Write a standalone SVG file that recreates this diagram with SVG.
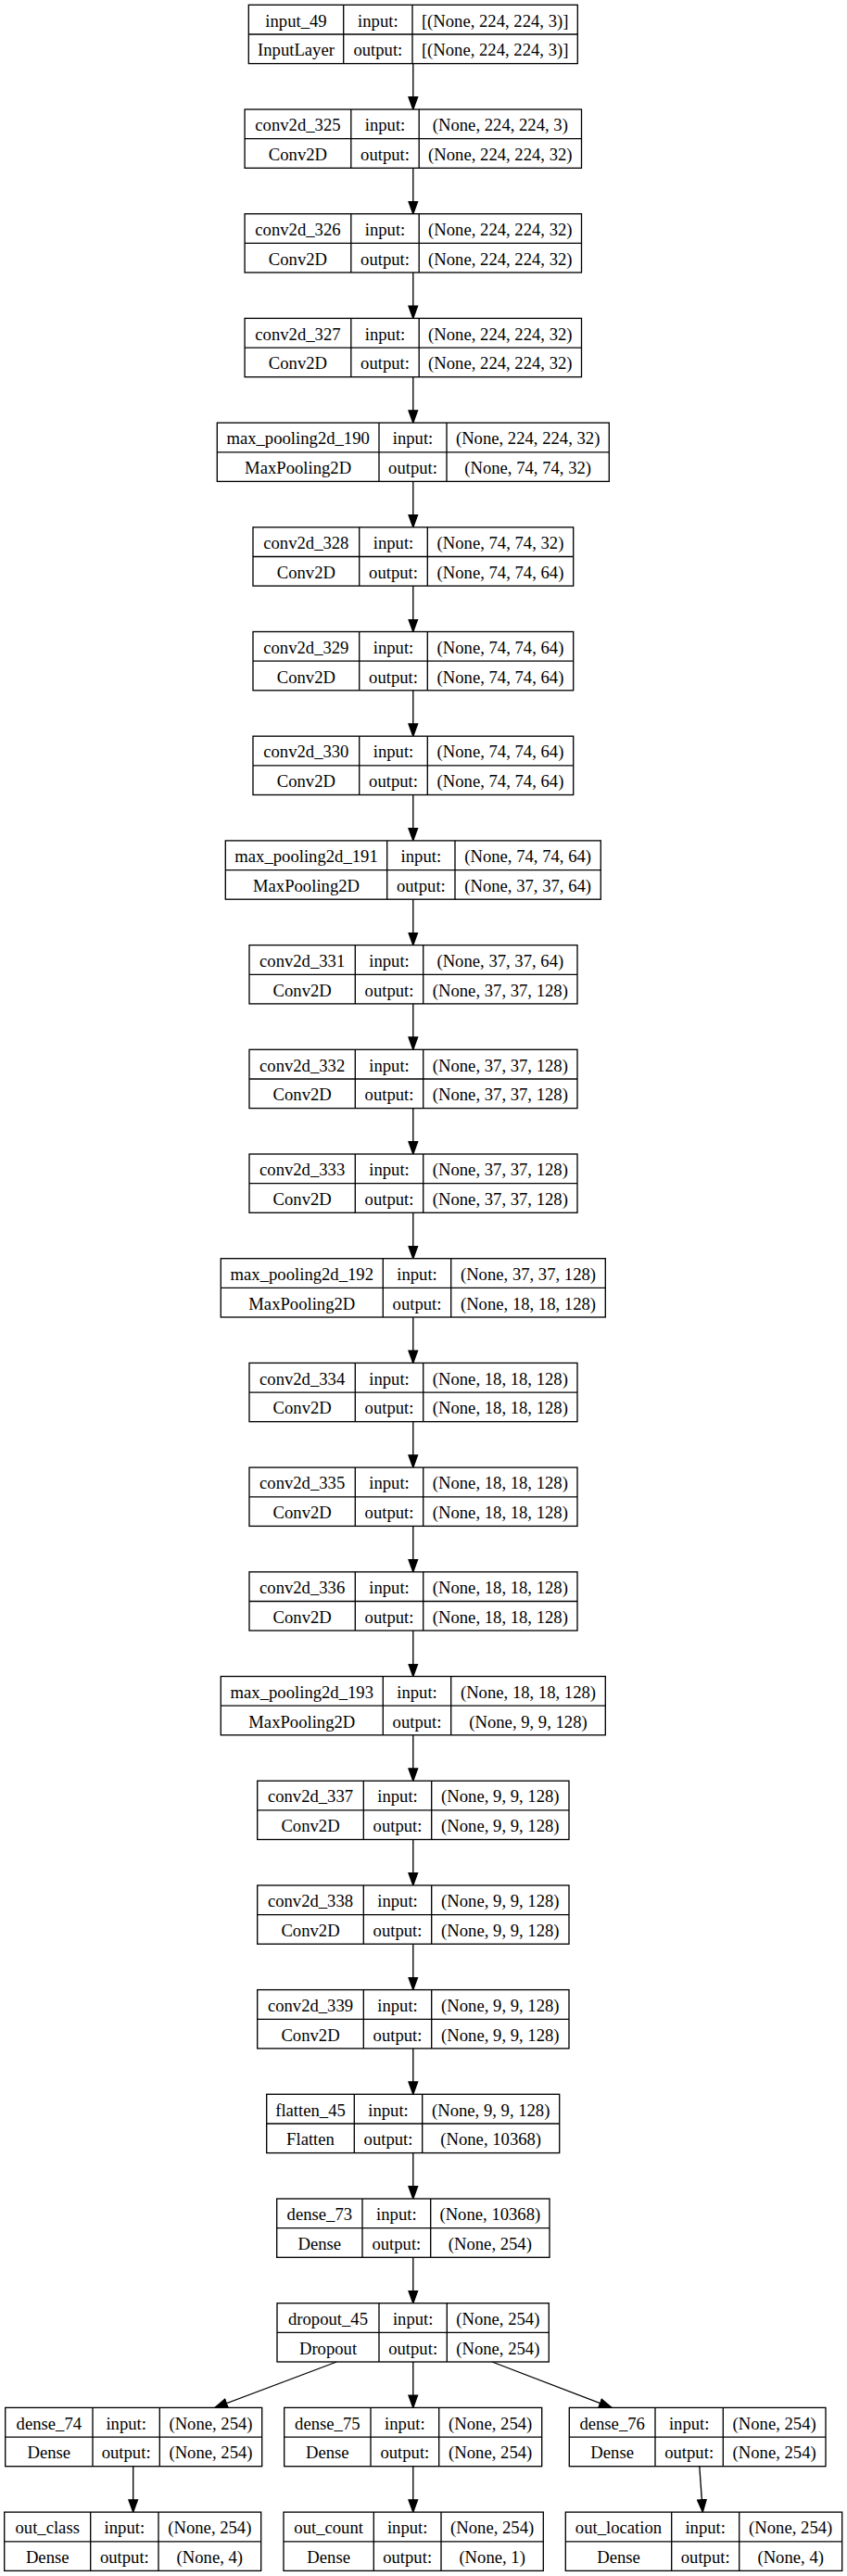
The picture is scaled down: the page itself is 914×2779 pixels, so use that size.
<svg xmlns="http://www.w3.org/2000/svg" width="914" height="2779" viewBox="0 0 914 2779">
<style>
.box{fill:#fff;stroke:#000;stroke-width:1.33}
.sep{fill:none;stroke:#000;stroke-width:1.33}
.edge{fill:none;stroke:#000;stroke-width:1.33}
text{font-family:"Liberation Serif","Times New Roman",serif;font-size:18.67px;text-anchor:middle;fill:#000}
</style>
<defs>
<marker id="arr" markerUnits="userSpaceOnUse" markerWidth="16" markerHeight="12" viewBox="0 0 16 12" refX="14" refY="6" orient="auto">
<path d="M0.7,1.2 L14,6 L0.7,10.8 Z" fill="#000" stroke="#000" stroke-width="1.33" stroke-linejoin="miter"/>
</marker>
</defs>
<rect width="914" height="2779" fill="#fff"/>

<g id="connectors">
<line class="edge" x1="445.8" y1="68.6" x2="445.8" y2="118" marker-end="url(#arr)"/>
<line class="edge" x1="445.8" y1="181.3" x2="445.8" y2="230.7" marker-end="url(#arr)"/>
<line class="edge" x1="445.8" y1="294" x2="445.8" y2="343.4" marker-end="url(#arr)"/>
<line class="edge" x1="445.8" y1="406.7" x2="445.8" y2="456.1" marker-end="url(#arr)"/>
<line class="edge" x1="445.8" y1="519.4" x2="445.8" y2="568.8" marker-end="url(#arr)"/>
<line class="edge" x1="445.8" y1="632.1" x2="445.8" y2="681.5" marker-end="url(#arr)"/>
<line class="edge" x1="445.8" y1="744.8" x2="445.8" y2="794.2" marker-end="url(#arr)"/>
<line class="edge" x1="445.8" y1="857.5" x2="445.8" y2="906.9" marker-end="url(#arr)"/>
<line class="edge" x1="445.8" y1="970.2" x2="445.8" y2="1019.6" marker-end="url(#arr)"/>
<line class="edge" x1="445.8" y1="1082.9" x2="445.8" y2="1132.3" marker-end="url(#arr)"/>
<line class="edge" x1="445.8" y1="1195.6" x2="445.8" y2="1245" marker-end="url(#arr)"/>
<line class="edge" x1="445.8" y1="1308.3" x2="445.8" y2="1357.7" marker-end="url(#arr)"/>
<line class="edge" x1="445.8" y1="1421" x2="445.8" y2="1470.4" marker-end="url(#arr)"/>
<line class="edge" x1="445.8" y1="1533.7" x2="445.8" y2="1583.1" marker-end="url(#arr)"/>
<line class="edge" x1="445.8" y1="1646.4" x2="445.8" y2="1695.8" marker-end="url(#arr)"/>
<line class="edge" x1="445.8" y1="1759.1" x2="445.8" y2="1808.5" marker-end="url(#arr)"/>
<line class="edge" x1="445.8" y1="1871.8" x2="445.8" y2="1921.2" marker-end="url(#arr)"/>
<line class="edge" x1="445.8" y1="1984.5" x2="445.8" y2="2033.9" marker-end="url(#arr)"/>
<line class="edge" x1="445.8" y1="2097.2" x2="445.8" y2="2146.6" marker-end="url(#arr)"/>
<line class="edge" x1="445.8" y1="2209.9" x2="445.8" y2="2259.3" marker-end="url(#arr)"/>
<line class="edge" x1="445.8" y1="2322.6" x2="445.8" y2="2372" marker-end="url(#arr)"/>
<line class="edge" x1="445.8" y1="2435.3" x2="445.8" y2="2484.7" marker-end="url(#arr)"/>
<line class="edge" x1="363.3" y1="2548" x2="232" y2="2597.4" marker-end="url(#arr)"/>
<line class="edge" x1="445.8" y1="2548" x2="445.8" y2="2597.4" marker-end="url(#arr)"/>
<line class="edge" x1="531" y1="2548" x2="660" y2="2597.4" marker-end="url(#arr)"/>
<line class="edge" x1="143.7" y1="2660.7" x2="143.7" y2="2710.1" marker-end="url(#arr)"/>
<line class="edge" x1="445.8" y1="2660.7" x2="445.8" y2="2710.1" marker-end="url(#arr)"/>
<line class="edge" x1="754.8" y1="2660.7" x2="758.3" y2="2710.1" marker-end="url(#arr)"/>
</g>

<g id="input_49" transform="translate(0,5.3)">
<rect class="box" x="268.3" y="0" width="355" height="63.3"/>
<path class="sep" d="M268.3 31.7H623.3M370.7 0V63.3M445 0V63.3"/>
<text x="319.5" y="23.3">input_49</text><text x="319.5" y="55">InputLayer</text>
<text x="407.85" y="23.3">input:</text><text x="407.85" y="55">output:</text>
<text x="534.15" y="23.3">[(None, 224, 224, 3)]</text><text x="534.15" y="55">[(None, 224, 224, 3)]</text>
</g>

<g id="conv2d_325" transform="translate(0,118)">
<rect class="box" x="264.1" y="0" width="363.4" height="63.3"/>
<path class="sep" d="M264.1 31.7H627.5M378.8 0V63.3M452.2 0V63.3"/>
<text x="321.45" y="23.3">conv2d_325</text><text x="321.45" y="55">Conv2D</text>
<text x="415.5" y="23.3">input:</text><text x="415.5" y="55">output:</text>
<text x="539.85" y="23.3">(None, 224, 224, 3)</text><text x="539.85" y="55">(None, 224, 224, 32)</text>
</g>

<g id="conv2d_326" transform="translate(0,230.7)">
<rect class="box" x="264.1" y="0" width="363.4" height="63.3"/>
<path class="sep" d="M264.1 31.7H627.5M378.8 0V63.3M452.2 0V63.3"/>
<text x="321.45" y="23.3">conv2d_326</text><text x="321.45" y="55">Conv2D</text>
<text x="415.5" y="23.3">input:</text><text x="415.5" y="55">output:</text>
<text x="539.85" y="23.3">(None, 224, 224, 32)</text><text x="539.85" y="55">(None, 224, 224, 32)</text>
</g>

<g id="conv2d_327" transform="translate(0,343.4)">
<rect class="box" x="264.1" y="0" width="363.4" height="63.3"/>
<path class="sep" d="M264.1 31.7H627.5M378.8 0V63.3M452.2 0V63.3"/>
<text x="321.45" y="23.3">conv2d_327</text><text x="321.45" y="55">Conv2D</text>
<text x="415.5" y="23.3">input:</text><text x="415.5" y="55">output:</text>
<text x="539.85" y="23.3">(None, 224, 224, 32)</text><text x="539.85" y="55">(None, 224, 224, 32)</text>
</g>

<g id="max_pooling2d_190" transform="translate(0,456.1)">
<rect class="box" x="234.3" y="0" width="423" height="63.3"/>
<path class="sep" d="M234.3 31.7H657.3M409 0V63.3M482 0V63.3"/>
<text x="321.65" y="23.3">max_pooling2d_190</text><text x="321.65" y="55">MaxPooling2D</text>
<text x="445.5" y="23.3">input:</text><text x="445.5" y="55">output:</text>
<text x="569.65" y="23.3">(None, 224, 224, 32)</text><text x="569.65" y="55">(None, 74, 74, 32)</text>
</g>

<g id="conv2d_328" transform="translate(0,568.8)">
<rect class="box" x="273" y="0" width="345.7" height="63.3"/>
<path class="sep" d="M273 31.7H618.7M387.7 0V63.3M461.3 0V63.3"/>
<text x="330.35" y="23.3">conv2d_328</text><text x="330.35" y="55">Conv2D</text>
<text x="424.5" y="23.3">input:</text><text x="424.5" y="55">output:</text>
<text x="540" y="23.3">(None, 74, 74, 32)</text><text x="540" y="55">(None, 74, 74, 64)</text>
</g>

<g id="conv2d_329" transform="translate(0,681.5)">
<rect class="box" x="273" y="0" width="345.7" height="63.3"/>
<path class="sep" d="M273 31.7H618.7M387.7 0V63.3M461.3 0V63.3"/>
<text x="330.35" y="23.3">conv2d_329</text><text x="330.35" y="55">Conv2D</text>
<text x="424.5" y="23.3">input:</text><text x="424.5" y="55">output:</text>
<text x="540" y="23.3">(None, 74, 74, 64)</text><text x="540" y="55">(None, 74, 74, 64)</text>
</g>

<g id="conv2d_330" transform="translate(0,794.2)">
<rect class="box" x="273" y="0" width="345.7" height="63.3"/>
<path class="sep" d="M273 31.7H618.7M387.7 0V63.3M461.3 0V63.3"/>
<text x="330.35" y="23.3">conv2d_330</text><text x="330.35" y="55">Conv2D</text>
<text x="424.5" y="23.3">input:</text><text x="424.5" y="55">output:</text>
<text x="540" y="23.3">(None, 74, 74, 64)</text><text x="540" y="55">(None, 74, 74, 64)</text>
</g>

<g id="max_pooling2d_191" transform="translate(0,906.9)">
<rect class="box" x="243.3" y="0" width="405" height="63.3"/>
<path class="sep" d="M243.3 31.7H648.3M417.7 0V63.3M491 0V63.3"/>
<text x="330.5" y="23.3">max_pooling2d_191</text><text x="330.5" y="55">MaxPooling2D</text>
<text x="454.35" y="23.3">input:</text><text x="454.35" y="55">output:</text>
<text x="569.65" y="23.3">(None, 74, 74, 64)</text><text x="569.65" y="55">(None, 37, 37, 64)</text>
</g>

<g id="conv2d_331" transform="translate(0,1019.6)">
<rect class="box" x="269" y="0" width="354" height="63.3"/>
<path class="sep" d="M269 31.7H623M383.3 0V63.3M456.7 0V63.3"/>
<text x="326.15" y="23.3">conv2d_331</text><text x="326.15" y="55">Conv2D</text>
<text x="420" y="23.3">input:</text><text x="420" y="55">output:</text>
<text x="539.85" y="23.3">(None, 37, 37, 64)</text><text x="539.85" y="55">(None, 37, 37, 128)</text>
</g>

<g id="conv2d_332" transform="translate(0,1132.3)">
<rect class="box" x="269" y="0" width="354" height="63.3"/>
<path class="sep" d="M269 31.7H623M383.3 0V63.3M456.7 0V63.3"/>
<text x="326.15" y="23.3">conv2d_332</text><text x="326.15" y="55">Conv2D</text>
<text x="420" y="23.3">input:</text><text x="420" y="55">output:</text>
<text x="539.85" y="23.3">(None, 37, 37, 128)</text><text x="539.85" y="55">(None, 37, 37, 128)</text>
</g>

<g id="conv2d_333" transform="translate(0,1245)">
<rect class="box" x="269" y="0" width="354" height="63.3"/>
<path class="sep" d="M269 31.7H623M383.3 0V63.3M456.7 0V63.3"/>
<text x="326.15" y="23.3">conv2d_333</text><text x="326.15" y="55">Conv2D</text>
<text x="420" y="23.3">input:</text><text x="420" y="55">output:</text>
<text x="539.85" y="23.3">(None, 37, 37, 128)</text><text x="539.85" y="55">(None, 37, 37, 128)</text>
</g>

<g id="max_pooling2d_192" transform="translate(0,1357.7)">
<rect class="box" x="238.3" y="0" width="415" height="63.3"/>
<path class="sep" d="M238.3 31.7H653.3M413.3 0V63.3M486.7 0V63.3"/>
<text x="325.8" y="23.3">max_pooling2d_192</text><text x="325.8" y="55">MaxPooling2D</text>
<text x="450" y="23.3">input:</text><text x="450" y="55">output:</text>
<text x="570" y="23.3">(None, 37, 37, 128)</text><text x="570" y="55">(None, 18, 18, 128)</text>
</g>

<g id="conv2d_334" transform="translate(0,1470.4)">
<rect class="box" x="269" y="0" width="354" height="63.3"/>
<path class="sep" d="M269 31.7H623M383.3 0V63.3M456.7 0V63.3"/>
<text x="326.15" y="23.3">conv2d_334</text><text x="326.15" y="55">Conv2D</text>
<text x="420" y="23.3">input:</text><text x="420" y="55">output:</text>
<text x="539.85" y="23.3">(None, 18, 18, 128)</text><text x="539.85" y="55">(None, 18, 18, 128)</text>
</g>

<g id="conv2d_335" transform="translate(0,1583.1)">
<rect class="box" x="269" y="0" width="354" height="63.3"/>
<path class="sep" d="M269 31.7H623M383.3 0V63.3M456.7 0V63.3"/>
<text x="326.15" y="23.3">conv2d_335</text><text x="326.15" y="55">Conv2D</text>
<text x="420" y="23.3">input:</text><text x="420" y="55">output:</text>
<text x="539.85" y="23.3">(None, 18, 18, 128)</text><text x="539.85" y="55">(None, 18, 18, 128)</text>
</g>

<g id="conv2d_336" transform="translate(0,1695.8)">
<rect class="box" x="269" y="0" width="354" height="63.3"/>
<path class="sep" d="M269 31.7H623M383.3 0V63.3M456.7 0V63.3"/>
<text x="326.15" y="23.3">conv2d_336</text><text x="326.15" y="55">Conv2D</text>
<text x="420" y="23.3">input:</text><text x="420" y="55">output:</text>
<text x="539.85" y="23.3">(None, 18, 18, 128)</text><text x="539.85" y="55">(None, 18, 18, 128)</text>
</g>

<g id="max_pooling2d_193" transform="translate(0,1808.5)">
<rect class="box" x="238.3" y="0" width="415" height="63.3"/>
<path class="sep" d="M238.3 31.7H653.3M413.3 0V63.3M486.7 0V63.3"/>
<text x="325.8" y="23.3">max_pooling2d_193</text><text x="325.8" y="55">MaxPooling2D</text>
<text x="450" y="23.3">input:</text><text x="450" y="55">output:</text>
<text x="570" y="23.3">(None, 18, 18, 128)</text><text x="570" y="55">(None, 9, 9, 128)</text>
</g>

<g id="conv2d_337" transform="translate(0,1921.2)">
<rect class="box" x="277.7" y="0" width="336.3" height="63.3"/>
<path class="sep" d="M277.7 31.7H614M392.3 0V63.3M465.7 0V63.3"/>
<text x="335" y="23.3">conv2d_337</text><text x="335" y="55">Conv2D</text>
<text x="429" y="23.3">input:</text><text x="429" y="55">output:</text>
<text x="539.85" y="23.3">(None, 9, 9, 128)</text><text x="539.85" y="55">(None, 9, 9, 128)</text>
</g>

<g id="conv2d_338" transform="translate(0,2033.9)">
<rect class="box" x="277.7" y="0" width="336.3" height="63.3"/>
<path class="sep" d="M277.7 31.7H614M392.3 0V63.3M465.7 0V63.3"/>
<text x="335" y="23.3">conv2d_338</text><text x="335" y="55">Conv2D</text>
<text x="429" y="23.3">input:</text><text x="429" y="55">output:</text>
<text x="539.85" y="23.3">(None, 9, 9, 128)</text><text x="539.85" y="55">(None, 9, 9, 128)</text>
</g>

<g id="conv2d_339" transform="translate(0,2146.6)">
<rect class="box" x="277.7" y="0" width="336.3" height="63.3"/>
<path class="sep" d="M277.7 31.7H614M392.3 0V63.3M465.7 0V63.3"/>
<text x="335" y="23.3">conv2d_339</text><text x="335" y="55">Conv2D</text>
<text x="429" y="23.3">input:</text><text x="429" y="55">output:</text>
<text x="539.85" y="23.3">(None, 9, 9, 128)</text><text x="539.85" y="55">(None, 9, 9, 128)</text>
</g>

<g id="flatten_45" transform="translate(0,2259.3)">
<rect class="box" x="287.7" y="0" width="316" height="63.3"/>
<path class="sep" d="M287.7 31.7H603.7M382.3 0V63.3M455.7 0V63.3"/>
<text x="335" y="23.3">flatten_45</text><text x="335" y="55">Flatten</text>
<text x="419" y="23.3">input:</text><text x="419" y="55">output:</text>
<text x="529.7" y="23.3">(None, 9, 9, 128)</text><text x="529.7" y="55">(None, 10368)</text>
</g>

<g id="dense_73" transform="translate(0,2372)">
<rect class="box" x="298.7" y="0" width="294.3" height="63.3"/>
<path class="sep" d="M298.7 31.7H593M391 0V63.3M464.7 0V63.3"/>
<text x="344.85" y="23.3">dense_73</text><text x="344.85" y="55">Dense</text>
<text x="427.85" y="23.3">input:</text><text x="427.85" y="55">output:</text>
<text x="528.85" y="23.3">(None, 10368)</text><text x="528.85" y="55">(None, 254)</text>
</g>

<g id="dropout_45" transform="translate(0,2484.7)">
<rect class="box" x="299" y="0" width="293.3" height="63.3"/>
<path class="sep" d="M299 31.7H592.3M409 0V63.3M482.3 0V63.3"/>
<text x="354" y="23.3">dropout_45</text><text x="354" y="55">Dropout</text>
<text x="445.65" y="23.3">input:</text><text x="445.65" y="55">output:</text>
<text x="537.3" y="23.3">(None, 254)</text><text x="537.3" y="55">(None, 254)</text>
</g>

<g id="dense_74" transform="translate(0,2597.4)">
<rect class="box" x="5.7" y="0" width="277" height="63.3"/>
<path class="sep" d="M5.7 31.7H282.7M100 0V63.3M172.3 0V63.3"/>
<text x="52.85" y="23.3">dense_74</text><text x="52.85" y="55">Dense</text>
<text x="136.15" y="23.3">input:</text><text x="136.15" y="55">output:</text>
<text x="227.5" y="23.3">(None, 254)</text><text x="227.5" y="55">(None, 254)</text>
</g>

<g id="dense_75" transform="translate(0,2597.4)">
<rect class="box" x="306.7" y="0" width="278" height="63.3"/>
<path class="sep" d="M306.7 31.7H584.7M400 0V63.3M473.7 0V63.3"/>
<text x="353.35" y="23.3">dense_75</text><text x="353.35" y="55">Dense</text>
<text x="436.85" y="23.3">input:</text><text x="436.85" y="55">output:</text>
<text x="529.2" y="23.3">(None, 254)</text><text x="529.2" y="55">(None, 254)</text>
</g>

<g id="dense_76" transform="translate(0,2597.4)">
<rect class="box" x="614.3" y="0" width="276.7" height="63.3"/>
<path class="sep" d="M614.3 31.7H891M707 0V63.3M780.3 0V63.3"/>
<text x="660.65" y="23.3">dense_76</text><text x="660.65" y="55">Dense</text>
<text x="743.65" y="23.3">input:</text><text x="743.65" y="55">output:</text>
<text x="835.65" y="23.3">(None, 254)</text><text x="835.65" y="55">(None, 254)</text>
</g>

<g id="out_class" transform="translate(0,2710.1)">
<rect class="box" x="4.7" y="0" width="277" height="63.3"/>
<path class="sep" d="M4.7 31.7H281.7M97.7 0V63.3M171 0V63.3"/>
<text x="51.2" y="23.3">out_class</text><text x="51.2" y="55">Dense</text>
<text x="134.35" y="23.3">input:</text><text x="134.35" y="55">output:</text>
<text x="226.35" y="23.3">(None, 254)</text><text x="226.35" y="55">(None, 4)</text>
</g>

<g id="out_count" transform="translate(0,2710.1)">
<rect class="box" x="306" y="0" width="280.3" height="63.3"/>
<path class="sep" d="M306 31.7H586.3M403.3 0V63.3M476 0V63.3"/>
<text x="354.65" y="23.3">out_count</text><text x="354.65" y="55">Dense</text>
<text x="439.65" y="23.3">input:</text><text x="439.65" y="55">output:</text>
<text x="531.15" y="23.3">(None, 254)</text><text x="531.15" y="55">(None, 1)</text>
</g>

<g id="out_location" transform="translate(0,2710.1)">
<rect class="box" x="610.3" y="0" width="298.4" height="63.3"/>
<path class="sep" d="M610.3 31.7H908.7M724.7 0V63.3M797.7 0V63.3"/>
<text x="667.5" y="23.3">out_location</text><text x="667.5" y="55">Dense</text>
<text x="761.2" y="23.3">input:</text><text x="761.2" y="55">output:</text>
<text x="853.2" y="23.3">(None, 254)</text><text x="853.2" y="55">(None, 4)</text>
</g>
</svg>
